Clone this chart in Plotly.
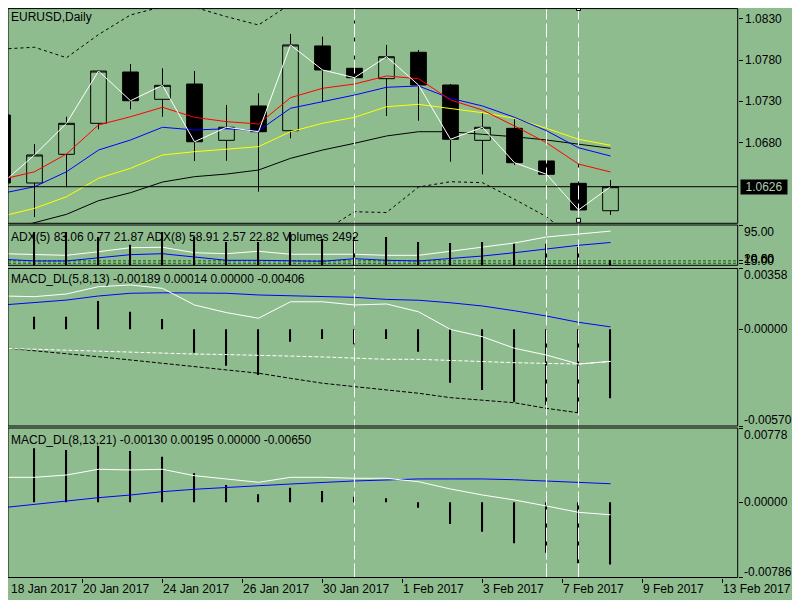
import plotly.graph_objects as go

# bar index 0..19 = daily bars from 18 Jan 2017
bars = list(range(20))

opens = [1.07132, 1.06305, 1.06654, 1.07031, 1.07655, 1.07323, 1.07509, 1.06824, 1.07242, 1.06941,
         1.07972, 1.07700, 1.07574, 1.07895, 1.07497, 1.06824, 1.06970, 1.06573, 1.06301, 1.05968]
highs = [1.07160, 1.06779, 1.07111, 1.07680, 1.07753, 1.07700, 1.07667, 1.07254, 1.07396, 1.08118,
         1.08085, 1.08279, 1.07984, 1.07923, 1.07509, 1.07153, 1.07080, 1.06694, 1.06593, 1.06341]
lows = [1.06270, 1.05891, 1.06253, 1.06958, 1.07201, 1.07111, 1.06573, 1.06576, 1.06199, 1.06849,
        1.07294, 1.07570, 1.07120, 1.07063, 1.06564, 1.06411, 1.06524, 1.06370, 1.05940, 1.05916]
closes = [1.06305, 1.06646, 1.07031, 1.07667, 1.07306, 1.07493, 1.06807, 1.06983, 1.06929, 1.07984,
          1.07680, 1.07586, 1.07841, 1.07497, 1.06837, 1.06983, 1.06552, 1.06411, 1.05977, 1.06260]

ma_red = [1.06350, 1.06442, 1.06658, 1.07011, 1.07111, 1.07226, 1.07104, 1.07051, 1.07023, 1.07343,
          1.07457, 1.07509, 1.07607, 1.07574, 1.07315, 1.07193, 1.06998, 1.06795, 1.06536, 1.06439]
ma_blue = [1.06180, 1.06260, 1.06442, 1.06706, 1.06828, 1.06983, 1.06950, 1.06965, 1.06941, 1.07214,
           1.07294, 1.07375, 1.07469, 1.07485, 1.07335, 1.07242, 1.07104, 1.06941, 1.06734, 1.06633]
ma_yellow = [1.05903, 1.05997, 1.06138, 1.06362, 1.06484, 1.06646, 1.06686, 1.06715, 1.06747, 1.06929,
             1.07031, 1.07104, 1.07233, 1.07262, 1.07214, 1.07160, 1.07092, 1.06970, 1.06837, 1.06764]
ma_black = [1.05721, 1.05822, 1.05924, 1.06090, 1.06187, 1.06317, 1.06382, 1.06414, 1.06463, 1.06605,
            1.06706, 1.06788, 1.06877, 1.06929, 1.06929, 1.06897, 1.06868, 1.06828, 1.06776, 1.06727]
band_upper = [1.07935, 1.07956, 1.07829, 1.08110, 1.08349, 1.08450, 1.08442, 1.08328, 1.08227, 1.08482,
              1.08604, 1.08580, 1.08543, 1.08482, 1.08446, 1.08458, 1.08489, 1.08592, 1.08653, 1.08701]
band_lower = [1.05429, 1.05393, 1.05429, 1.05490, 1.05514, 1.05539, 1.05490, 1.05490, 1.05514, 1.05587,
              1.05709, 1.05956, 1.05946, 1.06256, 1.06321, 1.06309, 1.06107, 1.05895, 1.05587, 1.05490]
price_ticks = [1.0830, 1.0780, 1.0730, 1.0680]

adx5 = [35.2, 33.1, 31.8, 39.4, 47.9, 48.8, 37.3, 35.2, 40.3, 34.0,
        34.0, 34.0, 31.8, 31.8, 40.3, 49.4, 57.9, 70.6, 76.3, 83.06]
adx8 = [23.4, 19.8, 19.8, 26.7, 33.1, 35.2, 28.2, 21.2, 21.2, 19.8,
        19.1, 24.6, 21.2, 19.8, 24.6, 30.3, 37.3, 45.8, 53.0, 58.91]
adx_levels = [20, 15]
volumes = [15000, 16580, 16590, 14090, 10260, 16600, 14100, 11600, 11610, 16570,
           13250, 14090, 14100, 11600, 11110, 11600, 10760, 10750, 9110, 2492]

macd1_main = [0.00196, 0.00192, 0.00208, 0.00251, 0.00261, 0.00241, 0.00143, 0.00098, 0.00065, 0.00162,
              0.00162, 0.00143, 0.00149, 0.00103, -0.00001, -0.00044, -0.00112, -0.00152, -0.00205, -0.00189]
macd1_signal = [0.00143, 0.00156, 0.00172, 0.00196, 0.00212, 0.00215, 0.00215, 0.00212, 0.00202, 0.00196,
                0.00192, 0.00188, 0.00176, 0.00171, 0.00156, 0.00137, 0.00109, 0.00078, 0.00041, 0.00014]
macd1_slow = [-0.00112, -0.00118, -0.00125, -0.00130, -0.00134, -0.00140, -0.00146, -0.00149, -0.00152, -0.00158,
              -0.00163, -0.00171, -0.00177, -0.00177, -0.00185, -0.00191, -0.00197, -0.00201, -0.00205, -0.00190]
macd1_low = [-0.00109, -0.00126, -0.00142, -0.00162, -0.00181, -0.00201, -0.00221, -0.00240, -0.00259, -0.00289,
             -0.00318, -0.00338, -0.00358, -0.00377, -0.00403, -0.00417, -0.00433, -0.00466, -0.00492, None]
macd1_hist = [0.00060, 0.00074, 0.00074, 0.00166, 0.00103, 0.00060, -0.00138, -0.00215, -0.00270, -0.00073,
              -0.00057, -0.00089, -0.00057, -0.00132, -0.00315, -0.00358, -0.00427, -0.00446, -0.00495, -0.00406]
macd1_range = [-0.00570, 0.00358]

macd2_main = [0.00262, 0.00262, 0.00286, 0.00346, 0.00339, 0.00346, 0.00279, 0.00245, 0.00210, 0.00262,
              0.00262, 0.00252, 0.00252, 0.00216, 0.00140, 0.00077, 0.00025, -0.00038, -0.00104, -0.00130]
macd2_signal = [-0.00056, -0.00020, 0.00014, 0.00049, 0.00077, 0.00112, 0.00137, 0.00158, 0.00174, 0.00192,
                0.00210, 0.00224, 0.00234, 0.00245, 0.00245, 0.00245, 0.00237, 0.00224, 0.00210, 0.00195]
macd2_hist = [0.00560, 0.00566, 0.00548, 0.00590, 0.00537, 0.00478, 0.00304, 0.00182, 0.00085, 0.00154,
              0.00119, 0.00059, 0.00043, -0.00056, -0.00226, -0.00307, -0.00428, -0.00526, -0.00637, -0.00650]
macd2_range = [-0.00786, 0.00778]

date_ticks = [0, 2.5, 5, 7.5, 10, 12.5, 15, 17.5, 20, 22.5]
date_labels = ['18 Jan 2017', '20 Jan 2017', '24 Jan 2017', '26 Jan 2017', '30 Jan 2017',
               '1 Feb 2017', '3 Feb 2017', '7 Feb 2017', '9 Feb 2017', '13 Feb 2017']
vline_bars = [11, 17, 18]

BG = '#8FBC8F'
FONT = dict(family='Liberation Sans, Arial, sans-serif', size=12, color='black')

# the page puts the figure 8px in from the top-left corner of the window
OFF = 8
W, H = 800 - OFF, 600 - OFF


def py(p):
    # window pixel row -> paper fraction
    return 1 - (p - OFF) / H


def px(p):
    return (p - OFF) / W


def cut_top(bottom_px, top_px, v_bottom, v_top):
    # keep the scale when the top of a pane falls outside the figure
    if top_px >= OFF:
        return py(top_px), v_top
    return 1.0, v_bottom + (v_top - v_bottom) * (bottom_px - OFF) / (bottom_px - top_px)


# x: bar i sits at window pixel 2.5 + 32*i, plot area spans 2.3..737.7
X0, X1 = max(px(2.3), 0.0), px(737.7)
x_lo = (max(2.3, OFF) - 2.5) / 32
x_hi = (737.7 - 2.5) / 32

panes = {
    'main': (223.3, 2.7),
    'adx': (265.3, 225.0),
    'macd1': (426.0, 268.5),
    'macd2': (577.5, 428.0),
}
main_top, main_hi = cut_top(223.3, 2.7, 1.05815, 1.08498)

fig = go.Figure()

fig.add_trace(go.Candlestick(
    x=bars, open=opens, high=highs, low=lows, close=closes,
    increasing=dict(line=dict(color='black', width=1), fillcolor=BG),
    decreasing=dict(line=dict(color='black', width=1), fillcolor='black'),
    whiskerwidth=0, yaxis='y'))

fig.add_trace(go.Scatter(x=bars, y=band_upper, mode='lines', line=dict(color='black', width=1, dash='3px,3px')))
fig.add_trace(go.Scatter(x=bars, y=band_lower, mode='lines', line=dict(color='black', width=1, dash='3px,3px')))
fig.add_trace(go.Scatter(x=bars, y=ma_black, mode='lines', line=dict(color='black', width=1)))
fig.add_trace(go.Scatter(x=bars, y=ma_yellow, mode='lines', line=dict(color='#FFFF00', width=1)))
fig.add_trace(go.Scatter(x=bars, y=ma_blue, mode='lines', line=dict(color='#0000FF', width=1)))
fig.add_trace(go.Scatter(x=bars, y=ma_red, mode='lines', line=dict(color='#FF0000', width=1)))
fig.add_trace(go.Scatter(x=bars, y=closes, mode='lines', line=dict(color='white', width=1)))

# ADX + volumes pane
fig.add_trace(go.Bar(x=bars, y=volumes, width=0.035, marker=dict(color='black', line=dict(width=0)), yaxis='y3'))
fig.add_trace(go.Scatter(x=bars, y=adx8, mode='lines', line=dict(color='#0000FF', width=1), yaxis='y2'))
fig.add_trace(go.Scatter(x=bars, y=adx5, mode='lines', line=dict(color='white', width=1), yaxis='y2'))

# MACD_DL(5,8,13)
fig.add_trace(go.Bar(x=bars, y=macd1_hist, width=0.035, marker=dict(color='black', line=dict(width=0)), yaxis='y4'))
fig.add_trace(go.Scatter(x=bars, y=macd1_low, mode='lines', line=dict(color='black', width=1, dash='4px,2px'), yaxis='y4'))
fig.add_trace(go.Scatter(x=bars, y=macd1_slow, mode='lines', line=dict(color='white', width=1, dash='4px,2px'), yaxis='y4'))
fig.add_trace(go.Scatter(x=bars, y=macd1_signal, mode='lines', line=dict(color='#0000FF', width=1), yaxis='y4'))
fig.add_trace(go.Scatter(x=bars, y=macd1_main, mode='lines', line=dict(color='white', width=1), yaxis='y4'))

# MACD_DL(8,13,21)
fig.add_trace(go.Bar(x=bars, y=macd2_hist, width=0.035, marker=dict(color='black', line=dict(width=0)), yaxis='y5'))
fig.add_trace(go.Scatter(x=bars, y=macd2_signal, mode='lines', line=dict(color='#0000FF', width=1), yaxis='y5'))
fig.add_trace(go.Scatter(x=bars, y=macd2_main, mode='lines', line=dict(color='white', width=1), yaxis='y5'))

sub_axis = dict(side='right', anchor='x', showgrid=False, zeroline=False, showline=False,
                ticks='outside', ticklen=4, tickcolor='black', showticklabels=False, fixedrange=True)

adx_range = [10.6, 96]
fig.update_layout(
    width=W, height=H,
    margin=dict(l=0, r=0, t=0, b=0),
    paper_bgcolor=BG, plot_bgcolor=BG,
    showlegend=False, barmode='overlay',
    font=FONT,
    xaxis=dict(domain=[X0, X1], range=[x_lo, x_hi], anchor='y5', showgrid=False, zeroline=False,
               showline=False, ticks='outside', ticklen=4, tickcolor='black', tickvals=date_ticks,
               showticklabels=False, rangeslider=dict(visible=False), fixedrange=True),
    yaxis=dict(domain=[py(panes['main'][0]), main_top], range=[1.05815, main_hi],
               side='right', anchor='x', showgrid=False, zeroline=False, showline=False,
               ticks='outside', ticklen=4, tickcolor='black', tickvals=price_ticks,
               ticktext=['%.4f' % v for v in price_ticks], tickfont=FONT, fixedrange=True),
    yaxis2=dict(sub_axis, domain=[py(panes['adx'][0]), py(panes['adx'][1])], range=adx_range,
                tickvals=[95] + adx_levels),
    yaxis3=dict(domain=[py(panes['adx'][0]), py(panes['adx'][1])], range=[0, 20070], overlaying='y2',
                anchor='x', visible=False, fixedrange=True),
    yaxis4=dict(sub_axis, domain=[py(panes['macd1'][0]), py(panes['macd1'][1])], range=macd1_range,
                tickvals=[macd1_range[1], 0, macd1_range[0]]),
    yaxis5=dict(sub_axis, domain=[py(panes['macd2'][0]), py(panes['macd2'][1])], range=macd2_range,
                tickvals=[macd2_range[1], 0, macd2_range[0]]),
)

shapes = []
# ADX level lines
for lv in adx_levels:
    shapes.append(dict(type='line', xref='paper', yref='y2', x0=X0, x1=X1, y0=lv, y1=lv,
                       line=dict(color='#006400', width=1, dash='3px,2px'), layer='below'))
# current price line
shapes.append(dict(type='line', xref='paper', yref='y', x0=X0, x1=X1, y0=closes[-1], y1=closes[-1],
                   line=dict(color='black', width=1)))
# vertical line objects
for b in vline_bars:
    shapes.append(dict(type='line', xref='x', yref='paper', x0=b, x1=b,
                       y0=py(panes['macd2'][0]), y1=1.0,
                       line=dict(color='white', width=1, dash='14px,4px')))
# selection handles of the last vertical line
for yy in (8.5, 220.3):
    shapes.append(dict(type='rect', xref='x', yref='paper', xsizemode='pixel', ysizemode='pixel',
                       xanchor=vline_bars[-1], yanchor=py(yy), x0=-2, x1=2, y0=-2, y1=2,
                       fillcolor='white', line=dict(color='black', width=1)))
# pane frames
for bottom, top in panes.values():
    shapes.append(dict(type='rect', xref='paper', yref='paper', x0=X0, x1=X1, y0=py(bottom),
                       y1=min(py(top), 0.999), line=dict(color='black', width=1)))
fig.update_layout(shapes=shapes)

ann = []


def label(text, x, y, xref='paper', yref='paper', **kw):
    ann.append(dict(text=text, x=x, y=y, xref=xref, yref=yref, showarrow=False,
                    xanchor=kw.pop('xanchor', 'left'), yanchor=kw.pop('yanchor', 'middle'),
                    font=kw.pop('font', FONT), **kw))


LEFT = px(OFF + 0.5)
label('EURUSD,Daily', LEFT, py(OFF), yanchor='top')
label('ADX(5) 83.06 0.77 21.87 ADX(8) 58.91 2.57 22.82 Volumes 2492', LEFT, py(237))
label('MACD_DL(5,8,13) -0.00189 0.00014 0.00000 -0.00406', LEFT, py(279))
label('MACD_DL(8,13,21) -0.00130 0.00195 0.00000 -0.00650', LEFT, py(439.5))

AX = px(742)
label('95.00', AX, 95, yref='y2', yshift=-7)
for lv in adx_levels:
    label('%.2f' % lv, AX, lv, yref='y2', yshift=2)
label('%.2f' % adx_range[0], AX, adx_range[0], yref='y2', yshift=6)
label('%.5f' % macd1_range[1], AX, macd1_range[1], yref='y4', yshift=-6)
label('0.00000', AX, 0, yref='y4')
label('%.5f' % macd1_range[0], AX, macd1_range[0], yref='y4', yshift=6)
label('%.5f' % macd2_range[1], AX, macd2_range[1], yref='y5', yshift=-7)
label('0.00000', AX, 0, yref='y5')
label('%.5f' % macd2_range[0], AX, macd2_range[0], yref='y5', yshift=6)

for t, txt in zip(date_ticks, date_labels):
    if t < x_lo:
        # first label starts left of the visible plot edge: pin it to the edge
        label(txt, LEFT, py(588.5))
    else:
        label(txt, t, py(588.5), xref='x', xshift=-2)

# current price tag on the price scale
ann.append(dict(text='%.4f' % closes[-1], x=px(740), y=closes[-1], xref='paper', yref='y',
                xanchor='left', yanchor='middle', showarrow=False, bgcolor='black',
                width=44, height=12, borderpad=1, font=dict(FONT, color='#B4CDB4')))

fig.update_layout(annotations=ann)

fig.write_html("out.html")
